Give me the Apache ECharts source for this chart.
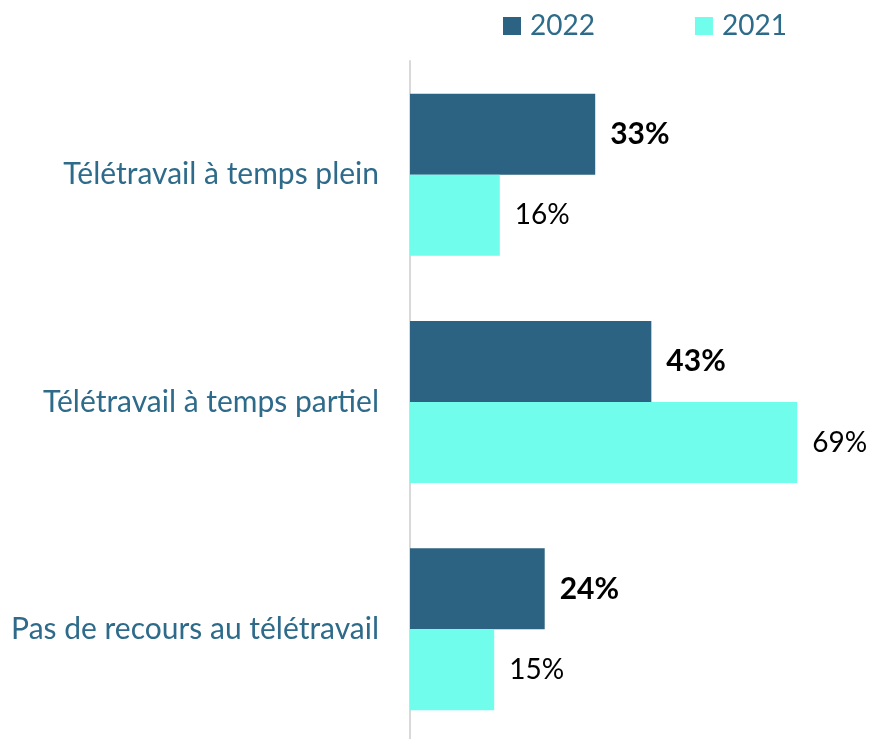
<!DOCTYPE html>
<html>
<head>
<meta charset="utf-8">
<script src="https://cdn.jsdelivr.net/npm/echarts@6/dist/echarts.min.js"></script>
<style>
  html, body { margin: 0; padding: 0; background: #ffffff; }
  #chart { width: 872px; height: 739px; }
</style>
</head>
<body>
<div id="chart"></div>
<script>
// Télétravail : répartition 2022 vs 2021 (en %)
const categories = ['Télétravail à temps plein', 'Télétravail à temps partiel', 'Pas de recours au télétravail'];
const values2022 = [33, 43, 24];
const values2021 = [16, 69, 15];
const seriesNames = ['2022', '2021'];

const FONT = 'Lato, "Open Sans", sans-serif';
const DARK = '#2c6282';
const CYAN = '#70fdec';
const LABEL_BLUE = '#2e6b8a';

const chart = echarts.init(document.getElementById('chart'), null, { renderer: 'canvas' });

chart.setOption({
  animation: false,
  textStyle: { fontFamily: FONT },
  legend: {
    top: 12,
    left: 503,
    padding: 0,
    itemWidth: 18,
    itemHeight: 18,
    itemGap: 100,
    icon: 'rect',
    textStyle: { fontFamily: FONT, fontSize: 28, color: LABEL_BLUE, padding: [0, 0, 0, 4] },
    data: seriesNames
  },
  grid: { left: 410, top: 61, width: 449, height: 682, containLabel: false, outerBoundsMode: 'none' },
  xAxis: {
    type: 'value',
    min: 0,
    max: 80,
    show: false
  },
  yAxis: {
    type: 'category',
    inverse: true,
    data: categories,
    axisLine: { show: true, lineStyle: { color: '#d9d9d9', width: 2 } },
    axisTick: { show: false },
    axisLabel: {
      margin: 31,
      fontFamily: FONT,
      fontSize: 30,
      color: LABEL_BLUE
    },
    splitLine: { show: false }
  },
  series: [
    {
      name: seriesNames[0],
      type: 'bar',
      data: values2022,
      barWidth: 81,
      barGap: '0%',
      itemStyle: { color: DARK },
      label: {
        show: true,
        position: 'right',
        distance: 15,
        formatter: '{c}%',
        fontFamily: FONT,
        fontSize: 30,
        fontWeight: 'bold',
        color: '#000000'
      }
    },
    {
      name: seriesNames[1],
      type: 'bar',
      data: values2021,
      barWidth: 81,
      barGap: '0%',
      itemStyle: { color: CYAN },
      label: {
        show: true,
        position: 'right',
        distance: 15,
        formatter: '{c}%',
        fontFamily: FONT,
        fontSize: 28,
        color: '#000000'
      }
    }
  ]
});
</script>
</body>
</html>
